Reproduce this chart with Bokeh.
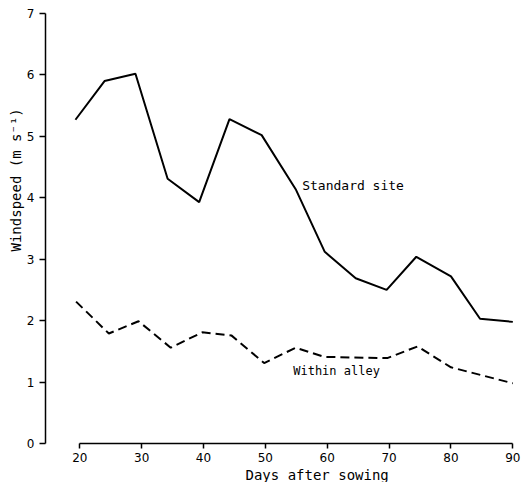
from bokeh.plotting import figure
from bokeh.models import Range1d, Label, FixedTicker, Title
from bokeh.embed import file_html
from bokeh.resources import INLINE

# Data
days_standard = [19.3, 24.0, 29.0, 34.2, 39.3, 44.2, 49.4, 54.9, 59.6, 64.6, 69.6, 74.4, 80.0, 84.7, 90.0]
standard_site = [5.27, 5.90, 6.02, 4.31, 3.93, 5.28, 5.02, 4.14, 3.12, 2.69, 2.50, 3.04, 2.72, 2.03, 1.98]

days_alley = [19.4, 24.7, 29.5, 34.7, 39.8, 44.5, 49.8, 54.9, 59.5, 69.7, 74.6, 80.0, 90.0]
within_alley = [2.31, 1.79, 1.99, 1.56, 1.81, 1.76, 1.31, 1.56, 1.41, 1.39, 1.58, 1.24, 0.98]

x_ticks = [20, 30, 40, 50, 60, 70, 80, 90]
y_ticks = [0, 1, 2, 3, 4, 5, 6, 7]

x_title = "Days after sowing"
y_title = "Windspeed  (m s\u207b\u00b9)"
label_standard = "Standard site"
label_alley = "Within alley"

mono = "DejaVu Sans Mono"

p = figure(width=522, height=482, output_backend="svg", toolbar_location=None,
           x_range=Range1d(14.46, 90.27), y_range=Range1d(0, 7),
           min_border_left=45, min_border_right=8, min_border_top=13, min_border_bottom=35)
p.outline_line_color = None
p.xgrid.visible = False
p.ygrid.visible = False
p.background_fill_color = "white"

for ax in (p.xaxis[0], p.yaxis[0]):
    ax.axis_line_width = 1.5
    ax.axis_line_color = "black"
    ax.major_tick_line_width = 1.5
    ax.major_tick_line_color = "black"
    ax.major_tick_in = 0
    ax.minor_tick_line_color = None
    ax.major_label_text_font = "DejaVu Sans"
    ax.major_label_text_font_size = "12px"
    ax.major_label_text_color = "black"

p.yaxis.major_tick_out = 6
p.yaxis.major_label_standoff = 5
p.xaxis.major_tick_out = 5
p.xaxis.major_label_standoff = 4

p.xaxis.ticker = FixedTicker(ticks=x_ticks)
p.yaxis.ticker = FixedTicker(ticks=y_ticks)
p.xaxis.bounds = (x_ticks[0], x_ticks[-1])
p.yaxis.bounds = (y_ticks[0], y_ticks[-1])

p.line(days_standard, standard_site, line_color="black", line_width=2)
p.line(days_alley, within_alley, line_color="black", line_width=2, line_dash="9 5")

p.add_layout(Label(x=55.95, y=4.2, text=label_standard, text_font=mono,
                   text_font_size="13px", text_baseline="middle", text_align="left",
                   text_color="black"))
p.add_layout(Label(x=54.5, y=1.18, text=label_alley, text_font=mono,
                   text_font_size="12px", text_baseline="middle", text_align="left",
                   text_color="black"))

p.add_layout(Title(text=x_title, text_font=mono, text_font_size="14px",
                   text_font_style="normal", text_color="black",
                   align="left", offset=200, standoff=0), "below")
p.add_layout(Title(text=y_title, text_font=mono, text_font_size="14px",
                   text_font_style="normal", text_color="black",
                   align="left", offset=192, standoff=0), "left")

open("out.html", "w").write(file_html(p, INLINE))
